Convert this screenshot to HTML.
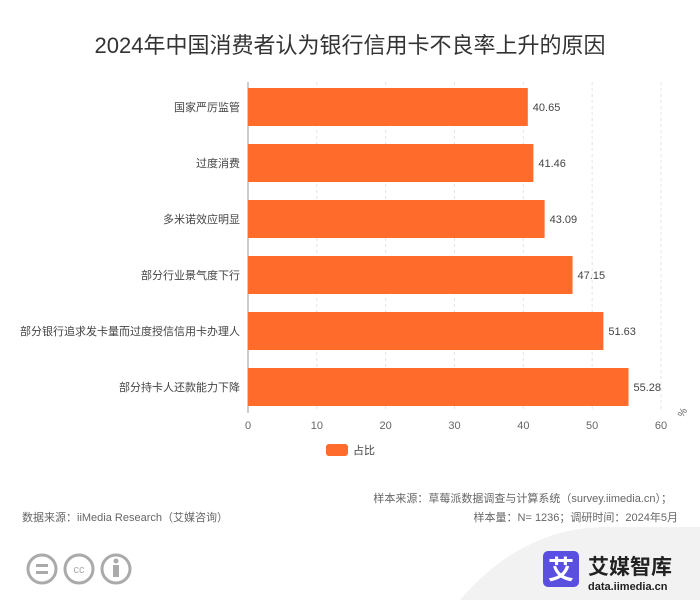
<!DOCTYPE html>
<html><head><meta charset="utf-8"><style>
body{margin:0;width:700px;height:600px;background:#fff;font-family:"Liberation Sans","Noto Sans CJK SC",sans-serif;overflow:hidden;position:relative}
.t{position:absolute;white-space:nowrap}
</style></head><body>
<div class="t" style="left:0;width:700px;text-align:center;top:28px;font-size:22px;color:#333">2024年中国消费者认为银行信用卡不良率上升的原因</div>
<svg id="c" width="700" height="600" style="position:absolute;left:0;top:0"></svg>
<div class="t" style="right:28px;top:490px;font-size:11px;color:#666">样本来源：草莓派数据调查与计算系统（survey.iimedia.cn）；</div>
<div class="t" style="right:22px;top:509px;font-size:11px;color:#666">样本量：N= 1236；调研时间：2024年5月</div>
<div class="t" style="left:22px;top:509px;font-size:11px;color:#666">数据来源：iiMedia Research（艾媒咨询）</div>
<svg width="700" height="600" style="position:absolute;left:0;top:0;pointer-events:none">
<path d="M460 600 Q520 530 600 527 L700 527 L700 600Z" fill="#f2f2f2"/>
<g fill="none" stroke="#aaa" stroke-width="3"><circle cx="42" cy="569" r="14"/><circle cx="79" cy="569" r="14"/><circle cx="116" cy="569" r="14"/></g>
<g fill="#aaa"><rect x="36" y="564" width="12" height="3"/><rect x="36" y="571" width="12" height="3"/><circle cx="116" cy="561" r="2.5"/><rect x="113" y="565" width="6" height="12"/></g>
<text x="79" y="573" font-size="11" fill="#aaa" text-anchor="middle" font-family="Liberation Sans">cc</text>
<rect x="543" y="551" width="36" height="36" rx="5" fill="#5b4fe0"/>
<text x="561" y="579" font-size="26" fill="#fff" font-weight="bold" text-anchor="middle" font-family="Noto Sans CJK SC">艾</text>
<text x="588" y="574" font-size="21" fill="#222" font-weight="bold" font-family="Noto Sans CJK SC">艾媒智库</text>
<text x="588" y="590" font-size="11" fill="#222" font-weight="bold" font-family="Liberation Sans">data.iimedia.cn</text>
</svg>
<script>
const categories=["国家严厉监管","过度消费","多米诺效应明显","部分行业景气度下行","部分银行追求发卡量而过度授信信用卡办理人","部分持卡人还款能力下降"];
const values=[40.65,41.46,43.09,47.15,51.63,55.28];
const ticks=[0,10,20,30,40,50,60];
const svg=document.getElementById('c');const NS='http://www.w3.org/2000/svg';
const x0=248,x1=661,xmax=60,top0=88,step=56,bh=38;
const X=v=>x0+(x1-x0)*v/xmax;
function mk(t,a,txt){const e=document.createElementNS(NS,t);for(const k in a)e.setAttribute(k,a[k]);if(txt!=null)e.textContent=txt;svg.appendChild(e);return e;}
ticks.forEach(t=>{if(t>0){const g=mk('line',{x1:X(t),x2:X(t),y1:82,y2:412,stroke:'#e3e3e3','stroke-dasharray':'3,3'});}
const l=mk('text',{x:X(t),y:429,'font-size':11,fill:'#666','text-anchor':'middle'},t);});
const ax=mk('line',{x1:x0,x2:x0,y1:82,y2:413,stroke:'#999'});
const u=mk('text',{x:683,y:418,'font-size':10,fill:'#666',transform:'rotate(-60 683 418)'},'%');
categories.forEach((c,i)=>{const y=top0+i*step;
const r=mk('rect',{x:x0,y:y,width:X(values[i])-x0,height:bh,fill:'#ff6b2b'});
const v=mk('text',{x:X(values[i])+5,y:y+bh/2+4,'font-size':11,fill:'#444'},values[i].toFixed(2));
const l=mk('text',{x:x0-8,y:y+bh/2+4,'font-size':11,fill:'#444','text-anchor':'end'},c);});
const lg=mk('rect',{x:326,y:444,width:22,height:12,rx:3,fill:'#ff6b2b'});
const lt=mk('text',{x:353,y:454,'font-size':11,fill:'#444'},'占比');
</script>
</body></html>
